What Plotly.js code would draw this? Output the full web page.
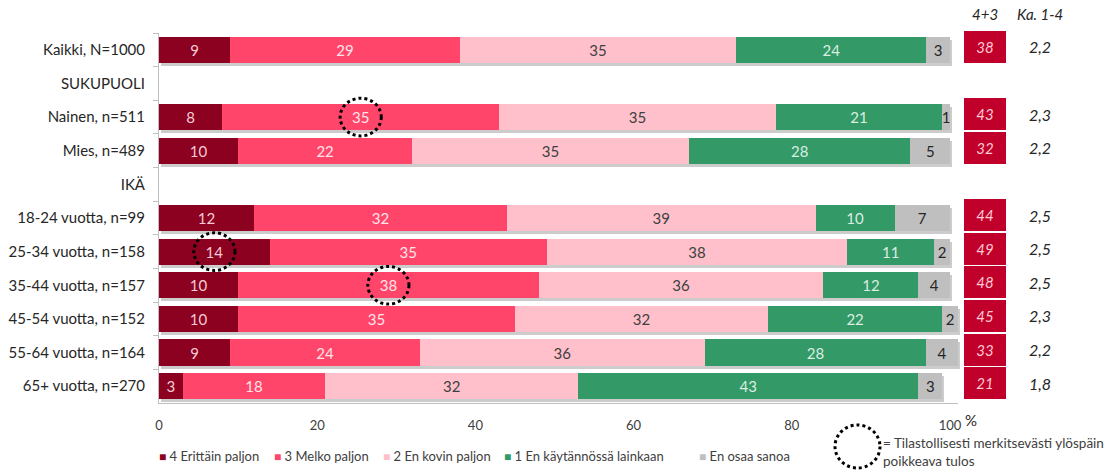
<!DOCTYPE html>
<html><head><meta charset="utf-8">
<script src="https://cdn.plot.ly/plotly-3.0.1.min.js"></script>
<style>html,body{margin:0;padding:0;background:#fff}#chart{width:1111px;height:471px}</style>
</head><body><div id="chart"></div>
<script>
const categories = ["Kaikki, N=1000","SUKUPUOLI","Nainen, n=511","Mies, n=489","IKÄ","18-24 vuotta, n=99","25-34 vuotta, n=158","35-44 vuotta, n=157","45-54 vuotta, n=152","55-64 vuotta, n=164","65+ vuotta, n=270"];
const seriesNames = ["4 Erittäin paljon","3 Melko paljon","2 En kovin paljon","1 En käytännössä lainkaan","En osaa sanoa"];
const erittain = [9,null,8,10,null,12,14,10,10,9,3];
const melko    = [29,null,35,22,null,32,35,38,35,24,18];
const kovin    = [35,null,35,35,null,39,38,36,32,36,32];
const lainkaan = [24,null,21,28,null,10,11,12,22,28,43];
const eos      = [3,null,1,5,null,7,2,4,2,4,3];
const sum43    = [38,null,43,32,null,44,49,48,45,33,21];
const ka14     = ["2,2",null,"2,3","2,2",null,"2,5","2,5","2,5","2,3","2,2","1,8"];
const significant = [["Nainen, n=511",1],["25-34 vuotta, n=158",0],["35-44 vuotta, n=157",1]];
const xTicks = [0,20,40,60,80,100];

const series = [erittain, melko, kovin, lainkaan, eos];
const colors = ["#8C0020","#FF466A","#FFC0CB","#339966","#BFBFBF"];
const textColors = ["#F6CCD4","#FFE3E9","#404040","#D9EEE1","#262626"];
const FONT = "Lato, 'Open Sans', sans-serif";

// page geometry (px)
const W = 1111, H = 471, ML = 159, MT = 30, MB = 65;
const PW = W - ML, PH = H - MT - MB;
const px = v => (v - ML) / PW;          // page x -> paper x
const py = v => (H - MB - v) / PH;      // page y -> paper y

const totals = categories.map((c,i)=> series.reduce((a,s)=> a + (s[i]||0), 0) || null);

const traces = [];
// drop shadow (drawn first, beneath)
traces.push({type:"bar", orientation:"h", y:categories, x:totals, width:0.78,
  marker:{color:"rgba(0,0,0,0.2)", line:{width:0}}, showlegend:false, hoverinfo:"skip",
  xaxis:"x", yaxis:"y"});

series.forEach((vals,i)=>traces.push({
  type:"bar", orientation:"h", name:seriesNames[i],
  y:categories, x:vals,
  text:vals.map(v=>v==null?"":String(v)),
  textposition:"inside", insidetextanchor:"middle", constraintext:"none",
  textfont:{color:textColors[i], size:15, family:FONT},
  marker:{color:colors[i], line:{width:0}},
  width:0.78, showlegend:false, hoverinfo:"x+y", cliponaxis:false,
  xaxis:"x3", yaxis:"y3"
}));

// 4+3 boxes
const boxCats = categories.filter((c,i)=>sum43[i]!=null);
const boxVals = sum43.filter(v=>v!=null);
traces.push({
  type:"bar", orientation:"h", y:boxCats, x:boxVals.map(()=>1),
  text:boxVals.map(String), textposition:"inside", insidetextanchor:"middle", constraintext:"none",
  textfont:{color:"#FFC8D2", size:15, family:FONT, style:"italic"},
  marker:{color:"#C0002A", line:{width:0}}, width:0.95,
  showlegend:false, hoverinfo:"skip", xaxis:"x2", yaxis:"y2"
});

const annotations = [];
categories.forEach((c,i)=>{
  if(ka14[i]!=null) annotations.push({xref:"paper", yref:"y2", x:px(1040), y:c, xanchor:"center", yanchor:"middle",
    text:ka14[i], showarrow:false, font:{size:16, color:"#262626", family:FONT, style:"italic"}});
});
annotations.push({xref:"paper", yref:"paper", x:px(985), y:py(14), xanchor:"center", yanchor:"middle", text:"4+3", showarrow:false, font:{size:15,color:"#262626",family:FONT,style:"italic"}});
annotations.push({xref:"paper", yref:"paper", x:px(1040), y:py(14), xanchor:"center", yanchor:"middle", text:"Ka. 1-4", showarrow:false, font:{size:15,color:"#262626",family:FONT,style:"italic"}});
annotations.push({xref:"paper", yref:"paper", x:px(963), y:py(420), xanchor:"left", yanchor:"middle", text:"%", showarrow:false, font:{size:15,color:"#262626",family:FONT}});

// legend as annotations
const legX = [157,272,381,502,697];
seriesNames.forEach((n,i)=>{
  annotations.push({xref:"paper", yref:"paper", x:px(legX[i]), y:py(456), xanchor:"left", yanchor:"middle", showarrow:false,
    text:`<span style="color:${colors[i]};font-size:12px">■</span> ${n}`, font:{size:13,color:"#404040",family:FONT}});
});
annotations.push({xref:"paper", yref:"paper", x:px(881), y:py(452), xanchor:"left", yanchor:"middle", align:"left", showarrow:false,
  text:"= Tilastollisesti merkitsevästi ylöspäin<br>poikkeava tulos", font:{size:13.5,color:"#404040",family:FONT}});

const shapes = [];
significant.forEach(([cat,s])=>{
  const r = categories.indexOf(cat);
  let base = 0; for(let k=0;k<s;k++) base += series[k][r];
  const c = base + series[s][r]/2;
  shapes.push({type:"circle", xref:"x3", yref:"y3", x0:c-2.6, x1:c+2.6, y0:r-0.56, y1:r+0.56,
    line:{color:"#000", width:3, dash:"dot"}});
});
shapes.push({type:"circle", xref:"paper", yref:"paper", x0:px(835), x1:px(880), y0:py(468), y1:py(425),
  line:{color:"#000", width:3, dash:"dot"}});

const mainX = [0, px(159 + 101*7.91)];
const mainY = [py(403), py(33)];
const layout = {
  width:W, height:H, margin:{l:ML, r:0, t:MT, b:MB},
  paper_bgcolor:"#fff", plot_bgcolor:"rgba(0,0,0,0)",
  barmode:"stack",
  font:{family:FONT, color:"#404040"},
  xaxis:{domain:[mainX[0]+2/PW, mainX[1]+2/PW], range:[0,101], visible:false, anchor:"y"},
  yaxis:{domain:[mainY[0]-3/PH, mainY[1]-3/PH], type:"category", categoryorder:"array", categoryarray:categories,
    autorange:"reversed", visible:false, anchor:"x"},
  xaxis3:{domain:mainX, range:[0,101], tickvals:xTicks, ticktext:xTicks.map(String), anchor:"y3",
    showgrid:false, zeroline:false, showline:true, linecolor:"#BFBFBF", linewidth:1,
    ticks:"", tickfont:{size:13,color:"#404040",family:FONT}, ticklabelstandoff:10},
  yaxis3:{domain:mainY, type:"category", categoryorder:"array", categoryarray:categories, anchor:"x3",
    autorange:"reversed", showgrid:false, zeroline:false, showline:true, linecolor:"#BFBFBF", linewidth:1,
    ticks:"outside", ticklen:5, tickcolor:"#BFBFBF", tickson:"boundaries",
    tickfont:{size:15,color:"#262626",family:FONT}, ticklabelstandoff:10},
  xaxis2:{domain:[px(964),px(1006)], range:[0,1], visible:false, anchor:"y2"},
  yaxis2:{domain:[py(400), py(30)], type:"category", categoryorder:"array", categoryarray:categories,
    autorange:"reversed", visible:false, anchor:"x2"},
  annotations, shapes, showlegend:false
};
Plotly.newPlot("chart", traces, layout, {displayModeBar:false, staticPlot:true});
</script></body></html>
